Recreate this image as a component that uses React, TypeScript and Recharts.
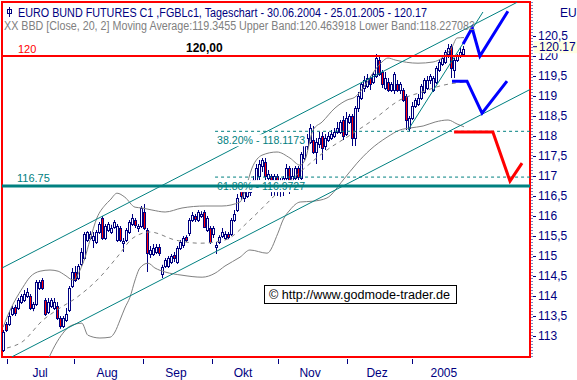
import React from "react";
import {
  ComposedChart,
  Bar,
  Line,
  XAxis,
  YAxis,
  ReferenceLine,
  ReferenceArea,
} from "recharts";

// daily candles, 30.06.2004 .. 25.01.2005 (index = trading day)
const opens = [
  112.65, 113.3, 113.3, 113.55, 113.72, 113.7, 113.85, 113.9, 114.0, 114.0,
  113.7, 113.8, 114.2, 114.4, 113.9, 113.6, 113.75, 113.7, 113.75, 113.45,
  113.25, 113.4, 113.65, 114.25, 114.6, 114.45, 114.8, 114.95, 115.4, 115.45,
  115.4, 115.35, 115.6, 115.95, 115.45, 115.65, 115.6, 115.72, 115.4, 115.7,
  115.32, 115.4, 115.6, 115.8, 115.9, 115.7, 115.75, 116.1, 115.65, 115.05,
  115.05, 115.1, 115.22, 114.55, 114.75, 114.75, 114.85, 115.02, 114.85, 115.2,
  115.28, 115.47, 115.58, 115.9, 116.0, 115.9, 116.0, 116.1, 115.65, 115.7,
  115.55, 115.22, 115.35, 115.5, 115.45, 115.55, 115.55, 115.9, 116.15, 116.65,
  116.45, 116.5, 116.6, 116.75, 116.85, 117.0, 117.25, 117.35, 116.95, 117.0,
  116.9, 117.0, 116.7, 116.8, 116.95, 117.2, 116.9, 116.95, 117.2, 116.95,
  117.45, 117.75, 117.85, 117.9, 117.6, 117.8, 118.0, 117.75, 117.9, 117.95,
  118.0, 118.1, 118.1, 118.4, 118.05, 118.35, 118.5, 117.95, 118.7, 118.95,
  119.2, 119.25, 119.45, 119.35, 119.5, 119.9, 119.6, 119.2, 119.35, 119.15,
  119.15, 119.3, 119.15, 119.15, 119.0, 118.2, 118.45, 118.75, 118.8, 118.95,
  119.1, 119.2, 119.4, 119.15, 119.35, 119.65, 119.8, 119.85, 120.05, 120.25,
  119.65, 119.9, 120.0, 120.05,
];
const highs = [
  113.15, 113.35, 113.6, 113.75, 113.78, 113.95, 114.05, 114.15, 114.2, 114.05,
  113.85, 114.4, 114.4, 114.45, 113.95, 113.95, 113.95, 113.95, 113.85, 113.5,
  113.5, 113.7, 114.25, 114.7, 114.75, 114.8, 115.2, 115.6, 115.62, 115.62,
  115.6, 115.65, 115.85, 116.0, 115.8, 115.85, 115.78, 115.9, 115.8, 115.75,
  115.45, 115.7, 115.9, 116.05, 115.95, 115.8, 116.25, 116.3, 115.7, 115.25,
  115.3, 115.3, 115.3, 114.78, 114.95, 115.0, 115.05, 115.1, 115.25, 115.4,
  115.5, 115.52, 115.95, 116.1, 116.05, 116.15, 116.12, 116.15, 116.0, 115.75,
  115.75, 115.35, 115.52, 115.7, 115.62, 115.6, 115.95, 116.15, 116.55, 116.75,
  116.7, 116.75, 116.9, 117.0, 117.3, 117.4, 117.45, 117.45, 117.15, 117.05,
  117.05, 117.05, 116.95, 117.0, 117.3, 117.25, 117.2, 117.25, 117.25, 117.6,
  117.95, 118.05, 118.3, 118.25, 117.95, 118.1, 118.1, 118.05, 118.1, 118.15,
  118.2, 118.35, 118.4, 118.5, 118.6, 118.55, 118.55, 118.75, 119.1, 119.35,
  119.5, 119.55, 119.5, 119.6, 120.05, 120.0, 119.65, 119.6, 119.45, 119.35,
  119.6, 119.4, 119.35, 119.2, 119.05, 118.5, 118.85, 118.95, 119.05, 119.3,
  119.45, 119.5, 119.55, 119.5, 119.75, 119.9, 120.0, 120.15, 120.3, 120.3,
  119.95, 120.05, 120.2, 120.25,
];
const lows = [
  112.6, 113.1, 113.25, 113.5, 113.5, 113.65, 113.8, 113.85, 113.95, 113.65,
  113.62, 113.75, 114.15, 114.15, 113.5, 113.55, 113.7, 113.65, 113.4, 113.18,
  113.2, 113.35, 113.6, 114.2, 114.35, 114.4, 114.75, 114.9, 115.35, 115.4,
  115.2, 115.3, 115.55, 115.4, 115.4, 115.6, 115.55, 115.68, 115.35, 115.35,
  115.1, 115.35, 115.55, 115.75, 115.7, 115.6, 115.7, 115.65, 114.6, 114.95,
  115.0, 115.05, 115.0, 114.45, 114.7, 114.7, 114.8, 114.85, 114.8, 115.15,
  115.2, 115.35, 115.5, 115.85, 115.85, 115.85, 115.95, 115.7, 115.6, 115.3,
  115.45, 115.05, 115.3, 115.45, 115.4, 115.42, 115.5, 115.85, 116.1, 116.4,
  116.35, 116.45, 116.5, 116.6, 116.8, 116.9, 117.1, 116.9, 116.75, 116.5,
  116.5, 116.5, 116.48, 116.5, 116.8, 116.55, 116.6, 116.9, 116.9, 116.9,
  117.4, 117.65, 117.8, 117.55, 117.3, 117.7, 117.4, 117.65, 117.85, 117.9,
  117.95, 118.05, 118.05, 117.9, 118.0, 118.3, 117.75, 117.75, 118.6, 118.9,
  119.1, 119.2, 119.15, 119.3, 119.45, 119.5, 119.2, 119.15, 119.1, 119.1,
  119.05, 119.1, 119.05, 118.85, 118.15, 118.12, 118.4, 118.7, 118.75, 118.9,
  119.05, 119.15, 119.3, 119.1, 119.3, 119.6, 119.75, 119.8, 119.95, 119.45,
  119.45, 119.85, 119.95, 120.0,
];
const closes = [
  113.1, 113.15, 113.5, 113.7, 113.58, 113.9, 114.0, 114.05, 114.1, 113.7,
  113.8, 114.35, 114.35, 114.2, 113.55, 113.85, 113.9, 113.85, 113.45, 113.25,
  113.45, 113.55, 114.2, 114.6, 114.4, 114.75, 115.1, 115.55, 115.6, 115.55,
  115.5, 115.6, 115.8, 115.45, 115.75, 115.8, 115.7, 115.85, 115.75, 115.4,
  115.38, 115.65, 115.85, 115.95, 115.78, 115.75, 116.2, 115.7, 115.08, 115.15,
  115.2, 115.22, 115.08, 114.72, 114.9, 114.95, 115.0, 114.95, 115.2, 115.35,
  115.45, 115.4, 115.9, 116.02, 115.92, 116.1, 116.05, 115.72, 115.95, 115.35,
  115.7, 115.28, 115.48, 115.6, 115.55, 115.48, 115.9, 116.05, 116.45, 116.5,
  116.6, 116.65, 116.75, 116.9, 117.2, 117.3, 117.4, 117.0, 117.05, 116.9,
  117.0, 116.7, 116.85, 116.95, 117.2, 116.9, 117.0, 117.2, 116.98, 117.55,
  117.9, 117.95, 118.2, 117.6, 117.85, 117.95, 117.7, 117.95, 118.0, 118.05,
  118.1, 118.2, 118.35, 118.0, 118.45, 118.5, 117.95, 118.7, 119.0, 119.3,
  119.4, 119.45, 119.3, 119.55, 119.95, 119.55, 119.3, 119.45, 119.15, 119.3,
  119.55, 119.15, 119.3, 118.9, 118.4, 118.45, 118.75, 118.9, 118.95, 119.25,
  119.4, 119.4, 119.5, 119.45, 119.7, 119.85, 119.95, 120.1, 120.2, 119.7,
  119.9, 120.0, 120.1, 120.17,
];

const monthNames = ["Jul", "Aug", "Sep", "Okt", "Nov", "Dez", "2005"];
const monthStarts = [1.0, 23.3, 46.2, 69.2, 91.1, 114.1, 135.7];
const monthMids = [12.0, 34.3, 57.2, 79.5, 101.8, 124.1, 146.3];
const priceTicks = [113, 113.5, 114, 114.5, 115, 115.5, 116, 116.5, 117, 117.5, 118, 118.5, 119, 119.5, 120, 120.5];
const lastPrice = 120.17;

// Bollinger bands (20, 2): [day, price]
const upperBand = [
  [-0.3, 113.22], [1.0, 113.47], [6.3, 114.22], [8.6, 114.47], [12.0, 114.62],
  [15.3, 114.65], [18.0, 114.62], [20.3, 114.52], [23.0, 114.4], [25.3, 114.65],
  [26.9, 114.95], [28.6, 115.4], [30.9, 115.95], [33.6, 116.27], [35.3, 116.4],
  [37.6, 116.57], [40.2, 116.47], [43.6, 116.22], [45.9, 116.2], [49.2, 116.15],
  [53.6, 116.1], [59.2, 116.2], [66.9, 116.25], [72.5, 116.25], [78.5, 116.35],
  [80.2, 116.65], [82.5, 117.2], [85.8, 117.52], [90.8, 117.6], [95.1, 117.45],
  [98.5, 117.27], [100.1, 117.4], [102.8, 118.15], [105.8, 118.35], [110.1, 118.7],
  [114.1, 118.9], [116.7, 118.97], [120.1, 119.27], [123.4, 119.65], [125.7, 119.85],
  [127.7, 119.95], [130.1, 119.9], [137.7, 119.82], [142.7, 119.85], [146.0, 119.97],
  [149.0, 120.22], [150.7, 120.45], [153.0, 120.46],
];
const middleBand = [
  [1.0, 112.7], [6.0, 112.85], [13.0, 113.4], [17.6, 113.65], [24.3, 113.97],
  [31.9, 114.47], [37.6, 114.97], [42.9, 115.45], [48.6, 115.6], [56.9, 115.4],
  [65.2, 115.32], [73.5, 115.4], [81.8, 115.9], [87.5, 116.32], [92.8, 116.72],
  [98.5, 117.1], [107.4, 117.65], [115.1, 118.02], [122.7, 118.4], [131.7, 118.9],
  [139.0, 119.1], [145.0, 119.25], [153.0, 119.35],
];
const lowerBand = [
  [14.0, 112.3], [17.0, 112.77], [19.6, 113.07], [22.0, 113.25], [25.9, 113.32],
  [27.9, 113.02], [31.9, 112.95], [35.3, 112.97], [36.9, 113.1], [38.6, 113.4],
  [40.2, 113.7], [41.9, 113.97], [43.6, 114.4], [45.2, 114.7], [47.9, 114.82],
  [50.2, 114.7], [53.6, 114.6], [59.2, 114.52], [65.9, 114.47], [70.2, 114.57],
  [73.5, 114.75], [78.5, 114.97], [81.8, 115.15], [87.5, 115.07], [91.1, 115.57],
  [92.8, 115.9], [95.1, 116.15], [98.5, 116.35], [102.8, 116.37], [107.4, 116.45],
  [112.8, 116.9], [117.4, 117.32], [121.7, 117.65], [127.4, 117.97], [131.7, 118.15],
  [135.0, 118.2], [139.4, 118.25], [143.4, 118.35], [147.7, 118.4], [150.7, 118.3],
  [153.0, 118.23],
];

// trend channel and trend line: [day, price] -> [day, price]
const channelLines = [
  [[-0.66, 114.7], [170.6, 121.34]],
  [[2.66, 112.48], [174.9, 119.16]],
  [[134.4, 118.15], [159.3, 121.1]],
];

const fibLevels = [
  { label: "38.20% - 118.1173", value: 118.1173 },
  { label: "61.80% - 116.9727", value: 116.9727 },
];
const fibStart = 70.2;
const resistance = 120;
const support = 116.75;

// hand drawn scenarios
const blueUp = [[152.7, 120.3], [155.7, 120.7], [158.3, 120.0], [167.6, 121.12]];
const blueMid = [[149.0, 119.37], [154.0, 119.37], [159.0, 118.57], [167.3, 119.37]];
const redDown = [[149.7, 118.1], [162.6, 118.1], [168.3, 116.87], [172.3, 117.32]];

const X_MIN = -0.665;
const X_MAX = 174.95;
const Y_MIN = 112.475;
const Y_MAX = 121.35;

const NAVY = "#000080";
const TEAL = "#008080";
const FONT = "'Liberation Sans', Arial, sans-serif";

const candles = closes.map((c, i) => ({ x: i, o: opens[i], h: highs[i], l: lows[i], c }));
const pts = (arr: number[][]) => arr.map(([x, v]) => ({ x, v }));

function Candle(props: any) {
  const { x, y, width, height, payload } = props;
  if (!payload || height == null) return null;
  const { o, h, l, c } = payload;
  const top = Math.min(y, y + height);
  const span = Math.abs(height);
  const py = (v: number) => top + ((h - v) / (h - l || 1)) * span;
  const cx = Math.round(x + width / 2);
  const bt = Math.round(py(Math.max(o, c)));
  const bb = Math.max(bt + 1, Math.round(py(Math.min(o, c))));
  return (
    <g>
      <line x1={cx - 0.5} x2={cx - 0.5} y1={py(h)} y2={py(l)} stroke={NAVY} strokeWidth={1} />
      <rect
        x={cx - 1.5}
        y={bt + 0.5}
        width={2}
        height={bb - bt}
        fill={c < o ? "#ff0000" : "#ffffff"}
        stroke={NAVY}
        strokeWidth={1}
      />
    </g>
  );
}

function MonthTick(props: any) {
  const { x, y, payload } = props;
  const k = monthStarts.indexOf(payload.value);
  if (k >= 0) {
    const xx = Math.round(x) + 0.5;
    return <line x1={xx} x2={xx} y1={y + 2} y2={y + 7} stroke={NAVY} />;
  }
  const j = monthMids.indexOf(payload.value);
  return (
    <text x={x} y={y + 20} textAnchor="middle" fill={NAVY} fontSize={12} fontFamily={FONT}>
      {monthNames[j]}
    </text>
  );
}

function PriceTick(props: any) {
  const { x, y, payload } = props;
  const v = payload.value;
  if (v === lastPrice) {
    return (
      <g>
        <rect x={x + 4} y={y - 8} width={44} height={12} fill="#ffffe1" />
        <line x1={x + 3} x2={x + 7} y1={y - 2.5} y2={y - 2.5} stroke={NAVY} />
        <text x={x + 9} y={y + 2} fill={NAVY} fontSize={12} fontFamily={FONT}>
          {String(v)}
        </text>
      </g>
    );
  }
  return (
    <g>
      <line x1={x + 3} x2={x + 6} y1={Math.round(y) + 0.5} y2={Math.round(y) + 0.5} stroke={NAVY} />
      <text x={x + 8} y={y} dy="0.33em" fill={NAVY} fontSize={12} fontFamily={FONT}>
        {String(v).replace(".", ",")}
      </text>
    </g>
  );
}

export default function App() {
  return (
    <div style={{ position: "absolute", left: 0, top: 0, width: 577, height: 380, background: "#fff" }}>
      <ComposedChart
        width={577}
        height={380}
        data={candles}
        margin={{ top: 2, right: 0, bottom: 0, left: 2 }}
        style={{ fontFamily: FONT }}
      >
        <XAxis
          type="number"
          dataKey="x"
          domain={[X_MIN, X_MAX]}
          allowDataOverflow
          ticks={[...monthStarts, ...monthMids].sort((a, b) => a - b)}
          interval={0}
          tick={<MonthTick />}
          tickLine={false}
          axisLine={false}
          tickSize={0}
          tickMargin={0}
          height={23}
        />
        <YAxis
          type="number"
          orientation="right"
          domain={[Y_MIN, Y_MAX]}
          allowDataOverflow
          ticks={[...priceTicks.slice(0, 15), lastPrice, priceTicks[15]]}
          interval={0}
          tick={<PriceTick />}
          tickLine={false}
          axisLine={{ stroke: NAVY, strokeDasharray: "1 2", transform: "translate(2 0)" }}
          tickSize={0}
          tickMargin={0}
          width={47}
        />

        <Line data={pts(upperBand)} dataKey="v" type="monotone" stroke="#808080" strokeWidth={1} dot={false} isAnimationActive={false} />
        <Line data={pts(lowerBand)} dataKey="v" type="monotone" stroke="#808080" strokeWidth={1} dot={false} isAnimationActive={false} />
        <Line data={pts(middleBand)} dataKey="v" type="monotone" stroke="#808080" strokeWidth={1} strokeDasharray="4 4" dot={false} isAnimationActive={false} />

        <Bar
          dataKey={(d: any) => [d.l, d.h]}
          barSize={3}
          shape={(p: any) => <Candle {...p} />}
          isAnimationActive={false}
        />

        {channelLines.map((s, i) => (
          <ReferenceLine
            key={`ch${i}`}
            segment={[{ x: s[0][0], y: s[0][1] }, { x: s[1][0], y: s[1][1] }]}
            stroke={TEAL}
            strokeWidth={1}
            ifOverflow="hidden"
          />
        ))}
        {fibLevels.map((f) => (
          <ReferenceLine
            key={f.label}
            segment={[{ x: fibStart, y: f.value }, { x: X_MAX, y: f.value }]}
            stroke={TEAL}
            strokeWidth={1}
            strokeDasharray="3 3"
            ifOverflow="hidden"
            label={(p: any) => (
              <g>
                <rect x={p.viewBox.x} y={p.viewBox.y + 3} width={92} height={12} fill="#fff" />
                <text x={p.viewBox.x + 2} y={p.viewBox.y + 13} fill={TEAL} fontSize={11} fontFamily={FONT} textLength={88} lengthAdjust="spacingAndGlyphs">
                  {f.label}
                </text>
              </g>
            )}
          />
        ))}
        <ReferenceLine
          y={support}
          stroke={TEAL}
          strokeWidth={3}
          label={(p: any) => (
            <text x={p.viewBox.x + 15} y={p.viewBox.y - 4} fill={TEAL} fontSize={11} fontFamily={FONT}>
              116.75
            </text>
          )}
        />
        <ReferenceLine
          y={resistance}
          stroke="#ff0000"
          strokeWidth={2}
          label={(p: any) => (
            <g>
              <text x={p.viewBox.x + 16} y={p.viewBox.y - 3} fill="#ff0000" fontSize={11} fontFamily={FONT}>
                120
              </text>
              <text x={p.viewBox.x + 184} y={p.viewBox.y - 4} fill="#000" fontSize={12} fontWeight="bold" fontFamily={FONT}>
                120,00
              </text>
            </g>
          )}
        />

        <Line data={pts(blueUp)} dataKey="v" type="linear" stroke="#0000ff" strokeWidth={3} dot={false} isAnimationActive={false} />
        <Line data={pts(blueMid)} dataKey="v" type="linear" stroke="#0000ff" strokeWidth={3} dot={false} isAnimationActive={false} />
        <Line data={pts(redDown)} dataKey="v" type="linear" stroke="#ff0000" strokeWidth={3} dot={false} isAnimationActive={false} />

        <ReferenceArea
          x1={X_MIN}
          x2={X_MAX}
          y1={Y_MIN}
          y2={Y_MAX}
          fill="none"
          fillOpacity={0}
          stroke="#ff0000"
          strokeWidth={2}
          ifOverflow="visible"
        />
      </ComposedChart>

      <svg
        width={577}
        height={380}
        style={{ position: "absolute", left: 0, top: 0, pointerEvents: "none" }}
      >
        <line x1={9.5} x2={9.5} y1={7} y2={17} stroke={NAVY} />
        <rect x={7.5} y={9.5} width={4} height={4} fill="none" stroke={NAVY} />
        <text x={18} y={17} fill={NAVY} fontSize={12.5} fontFamily={FONT} textLength={409} lengthAdjust="spacingAndGlyphs">
          EURO BUND FUTURES C1 ,FGBLc1, Tageschart - 30.06.2004 - 25.01.2005 - 120.17
        </text>
        <text x={4} y={30} fill="#808080" fontSize={12.5} fontFamily={FONT} textLength={471} lengthAdjust="spacingAndGlyphs">
          XX BBD [Close, 20, 2] Moving Average:119.3455 Upper Band:120.463918 Lower Band:118.227082
        </text>
        <text x={560} y={17} fill={NAVY} fontSize={12} fontFamily={FONT}>
          EU
        </text>
        <rect x={264.5} y={285.5} width={192} height={18} fill="#fff" stroke="#000" />
        <text x={269} y={299} fill="#000" fontSize={12} fontFamily={FONT} textLength={181} lengthAdjust="spacingAndGlyphs">
          © http://www.godmode-trader.de
        </text>
      </svg>
    </div>
  );
}
